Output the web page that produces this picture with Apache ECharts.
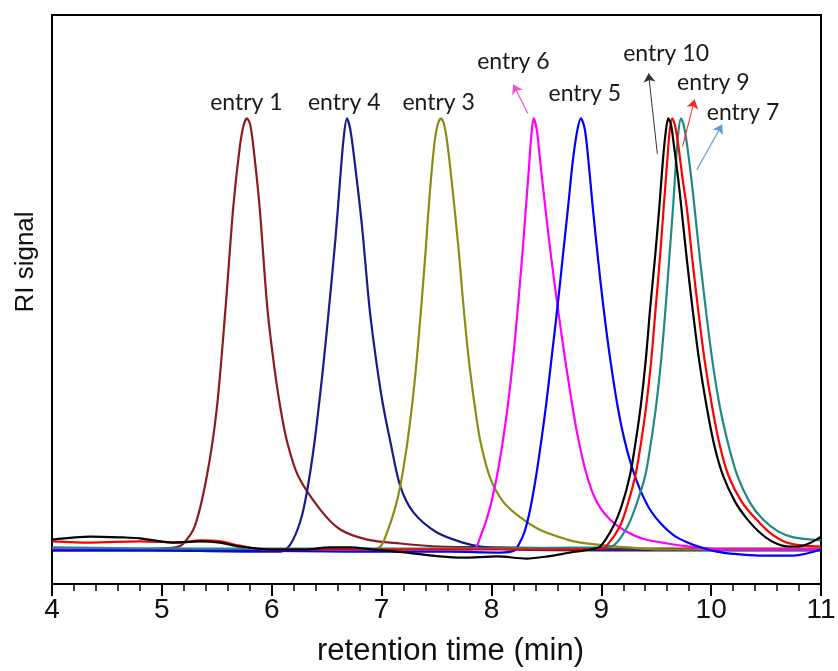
<!DOCTYPE html>
<html>
<head>
<meta charset="utf-8">
<script src="https://cdn.jsdelivr.net/npm/echarts@6/dist/echarts.min.js"></script>
<style>
  html, body { margin: 0; padding: 0; background: #fff; }
  #chart { width: 838px; height: 671px; }
</style>
</head>
<body>
<div id="chart"></div>
<script>
// GPC traces: [retention time (min), normalised RI signal]
const entry1 = [[4.00,0],[4.62,0],[4.98,0.002],[5.12,0.005],[5.19,0.012],[5.30,0.054],[5.41,0.171],[5.50,0.327],[5.58,0.561],[5.65,0.794],[5.71,0.935],[5.745,0.985],[5.775,1.0],[5.805,0.985],[5.835,0.93],[5.89,0.794],[5.96,0.561],[6.02,0.43],[6.08,0.327],[6.14,0.25],[6.24,0.171],[6.44,0.093],[6.62,0.047],[6.87,0.023],[7.17,0.014],[7.53,0.007],[8.08,0.005],[8.99,0.002],[9.90,0.002],[11.0,0.002]];
const entry4 = [[4.00,-0.002],[4.89,-0.002],[5.80,-0.005],[6.08,-0.005],[6.17,0.012],[6.26,0.065],[6.32,0.133],[6.39,0.25],[6.46,0.404],[6.51,0.53],[6.58,0.72],[6.62,0.85],[6.655,0.955],[6.685,1.0],[6.715,0.975],[6.75,0.91],[6.82,0.755],[6.89,0.561],[6.95,0.44],[7.01,0.34],[7.08,0.25],[7.17,0.147],[7.29,0.086],[7.50,0.04],[7.74,0.016],[7.90,0.007],[8.20,0],[8.99,-0.002],[11.0,-0.002]];
const entry3 = [[4.00,0],[6.26,0],[6.89,0],[6.99,0.007],[7.05,0.04],[7.12,0.093],[7.17,0.147],[7.23,0.24],[7.28,0.34],[7.32,0.44],[7.36,0.56],[7.40,0.69],[7.44,0.83],[7.48,0.94],[7.51,0.985],[7.54,1.0],[7.57,0.985],[7.60,0.94],[7.64,0.85],[7.70,0.70],[7.74,0.58],[7.79,0.45],[7.85,0.33],[7.90,0.25],[7.99,0.165],[8.11,0.11],[8.26,0.075],[8.44,0.046],[8.69,0.023],[8.81,0.016],[9.14,0.007],[9.56,0],[11.0,0]];
const entry6 = [[4.00,0],[7.17,0],[7.80,0],[7.86,0.005],[7.90,0.03],[7.95,0.065],[8.00,0.11],[8.05,0.17],[8.10,0.245],[8.15,0.335],[8.20,0.45],[8.24,0.56],[8.28,0.68],[8.31,0.78],[8.34,0.88],[8.36,0.95],[8.385,1.0],[8.415,0.97],[8.44,0.91],[8.47,0.84],[8.51,0.75],[8.56,0.645],[8.61,0.55],[8.66,0.46],[8.72,0.36],[8.78,0.27],[8.86,0.18],[8.95,0.115],[9.07,0.072],[9.22,0.043],[9.38,0.025],[9.60,0.014],[9.83,0.006],[10.14,0],[11.0,0]];
const entry5 = [[4.00,-0.002],[5.35,-0.002],[6.71,-0.005],[7.62,-0.005],[8.08,-0.007],[8.21,-0.002],[8.25,0.012],[8.30,0.04],[8.35,0.09],[8.40,0.16],[8.45,0.245],[8.50,0.34],[8.55,0.45],[8.60,0.56],[8.65,0.68],[8.70,0.8],[8.74,0.9],[8.78,0.97],[8.815,1.0],[8.85,0.975],[8.88,0.91],[8.92,0.80],[8.97,0.675],[9.02,0.561],[9.08,0.444],[9.15,0.33],[9.21,0.255],[9.28,0.19],[9.36,0.135],[9.45,0.09],[9.55,0.058],[9.66,0.033],[9.78,0.017],[9.92,0.004],[10.05,-0.005],[10.20,-0.010],[10.44,-0.014],[10.75,-0.014],[11.0,0]];
const entry10 = [[4.00,0.023],[4.35,0.03],[4.65,0.028],[4.80,0.026],[5.10,0.016],[5.35,0.019],[5.53,0.016],[5.71,0.007],[6.01,0],[6.32,0],[6.53,0.005],[6.71,0.005],[6.92,0],[7.23,-0.007],[7.53,-0.016],[7.74,-0.019],[8.05,-0.016],[8.32,-0.021],[8.51,-0.016],[8.72,-0.007],[8.90,0],[8.99,0.007],[9.11,0.054],[9.19,0.105],[9.26,0.171],[9.31,0.245],[9.36,0.335],[9.405,0.44],[9.445,0.56],[9.49,0.68],[9.53,0.80],[9.56,0.9],[9.585,0.965],[9.61,1.0],[9.635,0.985],[9.66,0.94],[9.70,0.86],[9.73,0.79],[9.78,0.67],[9.83,0.56],[9.89,0.44],[9.96,0.33],[10.03,0.24],[10.11,0.17],[10.22,0.11],[10.33,0.07],[10.44,0.04],[10.56,0.018],[10.70,0.007],[10.80,0.007],[10.90,0.015],[11.0,0.03]];
const entry9 = [[4.00,0.019],[4.35,0.016],[4.80,0.019],[5.17,0.016],[5.35,0.021],[5.53,0.019],[5.71,0.009],[5.94,0],[6.71,0],[7.62,0],[8.53,0],[8.99,0.002],[9.05,0.009],[9.17,0.054],[9.24,0.105],[9.31,0.171],[9.36,0.245],[9.41,0.335],[9.455,0.44],[9.495,0.56],[9.535,0.68],[9.57,0.80],[9.60,0.9],[9.62,0.965],[9.645,1.0],[9.67,0.985],[9.70,0.94],[9.74,0.86],[9.78,0.79],[9.83,0.67],[9.88,0.56],[9.94,0.44],[10.01,0.33],[10.08,0.24],[10.16,0.17],[10.28,0.11],[10.41,0.07],[10.53,0.04],[10.68,0.017],[10.85,0.009],[11.0,0.007]];
const entry7 = [[4.00,0.005],[5.35,0.002],[7.17,0.002],[8.99,0.005],[9.11,0.009],[9.24,0.054],[9.32,0.105],[9.40,0.171],[9.45,0.245],[9.50,0.335],[9.545,0.44],[9.585,0.56],[9.62,0.68],[9.655,0.80],[9.68,0.9],[9.70,0.965],[9.725,1.0],[9.75,0.985],[9.78,0.94],[9.82,0.86],[9.85,0.79],[9.90,0.67],[9.95,0.56],[10.01,0.44],[10.08,0.33],[10.16,0.24],[10.24,0.17],[10.35,0.11],[10.47,0.07],[10.61,0.042],[10.75,0.028],[11.0,0.021]];

// annotation text anchors [time, signal]
const labelNames = ['entry 1','entry 4','entry 3','entry 6','entry 5','entry 10','entry 9','entry 7'];
const labelPos = [[5.77,1.037],[6.66,1.037],[7.52,1.037],[8.20,1.131],[8.85,1.058],[9.59,1.150],[10.02,1.084],[10.29,1.014]];

// pointer arrows: [from, to] in data units
const arrowEntry6 = [[8.33,1.012],[8.20,1.079]];
const arrowEntry10 = [[9.51,0.918],[9.43,1.105]];
const arrowEntry9 = [[9.74,0.935],[9.85,1.044]];
const arrowEntry7 = [[9.87,0.881],[10.10,0.986]];

const chart = echarts.init(document.getElementById('chart'), null, { renderer: 'canvas' });

function trace(name, data, color) {
  return {
    name, type: 'line', data, smooth: 0.3, symbol: 'none',
    lineStyle: { color, width: 2.2 }, itemStyle: { color },
    animation: false, silent: true, z: 3
  };
}

function arrow(pts, color, width) {
  return [{ coord: pts[0] }, { coord: pts[1], lineStyle: { color, width } }];
}

const series = [
  trace('entry 1', entry1, '#8c1c1c'),
  trace('entry 4', entry4, '#1a1a8c'),
  trace('entry 3', entry3, '#8c8c14'),
  trace('entry 6', entry6, '#ff00ff'),
  trace('entry 5', entry5, '#0000ff'),
  trace('entry 7', entry7, '#1f8a84'),
  trace('entry 9', entry9, '#ff0000'),
  trace('entry 10', entry10, '#000000')
];

// annotation layer: labels and arrows
series.push({
  type: 'line', data: [], silent: true, animation: false,
  markPoint: {
    symbol: 'circle', symbolSize: 1,
    itemStyle: { color: 'rgba(0,0,0,0)' },
    label: { show: true, position: 'inside', color: '#1a1a1a', fontFamily: 'Lato', fontSize: 23 },
    data: labelNames.map((n, i) => ({ coord: labelPos[i], label: { formatter: n } }))
  },
  markLine: {
    symbol: ['none', 'arrow'], symbolSize: 9, silent: true,
    label: { show: false },
    lineStyle: { type: 'solid', width: 1 },
    data: [
      arrow(arrowEntry6, '#f050c8', 1.2),
      arrow(arrowEntry10, '#333333', 1),
      arrow(arrowEntry9, '#ff2020', 1),
      arrow(arrowEntry7, '#5b9bd5', 1.2)
    ]
  }
});

chart.setOption({
  backgroundColor: '#fff',
  animation: false,
  grid: { left: 52, right: 17, top: 15, bottom: 87, outerBoundsMode: 'none', show: true, borderColor: '#000', borderWidth: 2 },
  xAxis: {
    type: 'value', min: 4, max: 11, interval: 1,
    name: 'retention time (min)', nameLocation: 'middle', nameGap: 52,
    nameTextStyle: { fontFamily: 'Liberation Sans', fontSize: 31, color: '#111', padding: [0, 0, 0, 28] },
    axisLine: { onZero: false, lineStyle: { color: '#000', width: 2 } },
    axisTick: { show: true, inside: false, length: 12, lineStyle: { color: '#000', width: 2 } },
    minorTick: { show: true, splitNumber: 5, length: 7, lineStyle: { color: '#000', width: 1.5 } },
    axisLabel: { fontFamily: 'Liberation Sans', fontSize: 28, color: '#111', margin: 12 },
    splitLine: { show: false }
  },
  yAxis: {
    type: 'value', min: -0.08, max: 1.24,
    axisLine: { show: true, lineStyle: { color: '#000', width: 2 } },
    axisTick: { show: false }, axisLabel: { show: false }, splitLine: { show: false }
  },
  graphic: [{
    type: 'text', x: 26, y: 262, rotation: Math.PI / 2,
    style: { text: 'RI signal', fontFamily: 'Liberation Sans', fontSize: 26, fill: '#111', textAlign: 'center', textVerticalAlign: 'middle' }
  }],
  series
});
</script>
</body>
</html>
